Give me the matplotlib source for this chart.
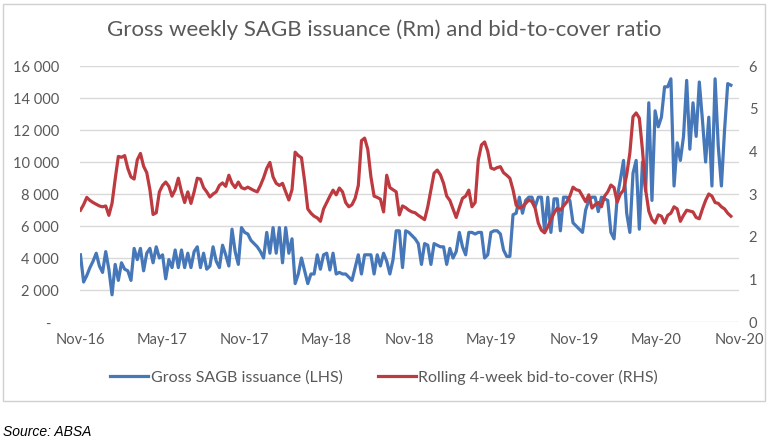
import numpy as np
import pandas as pd
import matplotlib
matplotlib.use("Agg")
import matplotlib.pyplot as plt
from matplotlib.patches import Rectangle

# Weekly gross SAGB issuance (Rm)
issuance = [
    4200, 2500, 2900, 3400, 3800, 4300, 3500, 3100, 4400, 3300,
    1700, 3600, 2600, 3700, 3300, 3200, 2600, 4600, 3900, 4600,
    3200, 4300, 4600, 3700, 4700, 4000, 4200, 2700, 3900, 3400,
    4500, 3400, 4500, 3400, 4300, 3400, 4400, 4700, 3400, 4300,
    3300, 3500, 4700, 3800, 3400, 4800, 4200, 3500, 5800, 4400,
    3600, 5900, 5600, 5500, 5100, 4900, 4700, 4400, 4000, 5600,
    4300, 5900, 4300, 5900, 3700, 5900, 4300, 5200, 2400, 3000,
    4000, 3200, 2400, 3000, 3000, 4200, 3300, 4200, 4300, 3250,
    4300, 3000, 3100, 3000, 3000, 2800, 2600, 3400, 4200, 3000,
    4200, 4200, 4200, 3000, 4200, 3500, 4300, 3800, 3000, 3900,
    5700, 5700, 3400, 5700, 5600, 5400, 5200, 4900, 3600, 4900,
    4800, 3600, 4900, 4800, 4700, 4700, 3600, 4600, 4000, 4400,
    5600, 4700, 4200, 5600, 5600, 5500, 5600, 5600, 4000, 4200,
    5600, 5700, 5700, 5500, 4500, 4100, 4100, 6700, 6800, 7800,
    6800, 7600, 7800, 7800, 7200, 7800, 7800, 5700, 7800, 5600,
    7700, 7700, 5700, 7800, 7800, 7600, 6200, 6000, 5800, 5600,
    7000, 7600, 7800, 7800, 6900, 7800, 7700, 7600, 5600, 5200,
    7800, 8900, 10100, 6800, 5600, 9300, 10100, 5800, 10000, 8200,
    13700, 7600, 13200, 12200, 12800, 14700, 14700, 15200, 8500, 11200,
    10100, 11600, 15100, 10800, 13700, 11600, 15000, 12600, 10000, 12800,
    8500, 15200, 11000, 8500, 12000, 14900, 14800,
]

# Rolling 4-week bid-to-cover ratio
bid_cover = [
    2.62, 2.75, 2.92, 2.85, 2.80, 2.76, 2.72, 2.70, 2.72, 2.50,
    2.78, 3.35, 3.88, 3.86, 3.90, 3.60, 3.40, 3.35, 3.80, 3.95,
    3.65, 3.50, 3.10, 2.52, 2.56, 3.05, 3.20, 3.28, 3.18, 2.95,
    3.10, 3.37, 3.05, 2.80, 3.05, 2.78, 3.05, 3.37, 3.35, 3.15,
    3.05, 2.93, 3.00, 3.05, 3.20, 3.26, 3.18, 3.44, 3.25, 3.15,
    3.28, 3.15, 3.12, 3.16, 3.12, 3.08, 3.05, 3.20, 3.38, 3.60,
    3.74, 3.40, 3.25, 3.20, 3.25, 3.05, 2.86, 3.10, 3.98, 3.90,
    3.85, 3.30, 2.65, 2.55, 2.48, 2.44, 2.36, 2.65, 2.80, 2.95,
    3.09, 2.98, 3.14, 3.05, 2.80, 2.70, 2.75, 2.90, 3.20, 4.25,
    4.31, 4.05, 3.40, 2.95, 2.92, 2.88, 2.58, 3.44, 3.15, 3.10,
    3.05, 2.51, 2.72, 2.68, 2.62, 2.58, 2.56, 2.50, 2.45, 2.40,
    2.70, 3.10, 3.49, 3.56, 3.45, 3.25, 2.95, 2.85, 2.65, 2.45,
    2.68, 2.90, 2.95, 3.09, 2.70, 2.80, 3.80, 4.15, 4.22, 4.00,
    3.61, 3.58, 3.62, 3.64, 3.50, 3.44, 3.37, 3.10, 2.74, 2.67,
    2.70, 2.78, 2.86, 2.82, 2.67, 2.32, 2.15, 2.09, 2.23, 2.40,
    2.55, 2.67, 2.62, 2.72, 2.81, 2.95, 3.16, 3.10, 3.08, 2.95,
    2.82, 2.98, 2.67, 2.75, 2.80, 2.70, 2.95, 3.05, 3.21, 3.15,
    2.81, 3.00, 3.09, 3.45, 3.96, 4.81, 4.90, 4.78, 4.03, 3.10,
    2.60, 2.40, 2.32, 2.51, 2.48, 2.32, 2.50, 2.55, 2.70, 2.65,
    2.36, 2.50, 2.62, 2.60, 2.58, 2.45, 2.42, 2.65, 2.85, 3.00,
    2.95, 2.80, 2.78, 2.70, 2.65, 2.55, 2.48,
]

tick_dates = ["2016-11-01", "2017-05-01", "2017-11-01", "2018-05-01", "2018-11-01",
              "2019-05-01", "2019-11-01", "2020-05-01", "2020-11-01"]
tick_labels = ["Nov-16", "May-17", "Nov-17", "May-18", "Nov-18",
               "May-19", "Nov-19", "May-20", "Nov-20"]

dates = pd.date_range("2016-11-02", periods=len(issuance), freq="7D")

blue = "#4677B8"
red = "#BD3A40"
grey_txt = "#595959"
plt.rcParams["font.family"] = ["Lato", "DejaVu Sans"]

fig = plt.figure(figsize=(7.68, 4.44), dpi=100)
ax = fig.add_axes([80 / 768, 1 - 322 / 444, 659 / 768, 256 / 444])
ax2 = ax.twinx()

l1, = ax.plot(dates, issuance, color=blue, lw=2.3, solid_joinstyle="round")
l2, = ax2.plot(dates, bid_cover, color=red, lw=2.3, solid_joinstyle="round")

ax.set_xlim(pd.Timestamp("2016-11-01"), pd.Timestamp("2020-11-01"))
ax.set_ylim(0, 16000)
ax2.set_ylim(0, 6)
ax.set_yticks(range(0, 16001, 2000))
ax.set_yticklabels(["-  "] + [f"{v:,}".replace(",", " ") for v in range(2000, 16001, 2000)])
ax2.set_yticks(range(0, 7))
ax.set_xticks(pd.to_datetime(tick_dates))
ax.set_xticklabels(tick_labels)

ax.grid(axis="y", color="#d9d9d9", lw=1)
ax.set_axisbelow(True)
for a in (ax, ax2):
    for s in a.spines.values():
        s.set_visible(False)
    a.tick_params(length=0, labelsize=10.5, labelcolor=grey_txt)
ax.tick_params(axis="y", pad=15)
ax.tick_params(axis="x", pad=8)
ax2.tick_params(axis="y", pad=7)

fig.text(0.5, 1 - 30 / 444, "Gross weekly SAGB issuance (Rm) and bid-to-cover ratio",
         ha="center", va="center", fontsize=16, color=grey_txt)

fig.legend([l1, l2], ["Gross SAGB issuance (LHS)", "Rolling 4-week bid-to-cover (RHS)"],
           loc="center", bbox_to_anchor=(0.5, 1 - 377 / 444), ncol=2, frameon=False,
           fontsize=11.5, handlelength=2.4, handletextpad=0.15, columnspacing=2.2,
           labelcolor=grey_txt)

fig.patches.append(Rectangle((3 / 768, 1 - 401 / 444), 762 / 768, 397 / 444,
                             transform=fig.transFigure, fill=False,
                             edgecolor="#d0d0d0", lw=1))

fig.text(3 / 768, 1 - 432 / 444, "Source: ABSA", ha="left", va="center",
         fontsize=10, style="italic", family="Liberation Sans", color="black")

fig.savefig("out.png", dpi=100)
